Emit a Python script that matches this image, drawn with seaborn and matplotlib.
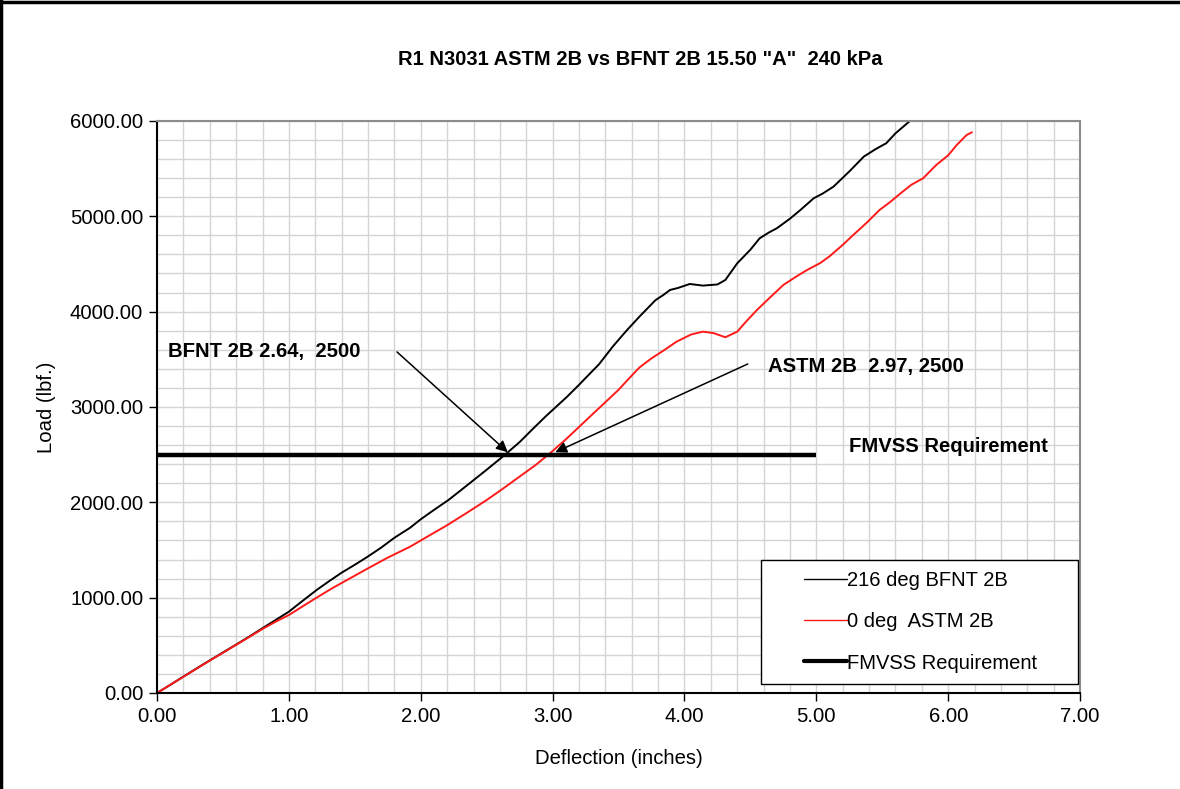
import numpy as np
import pandas as pd
import matplotlib
matplotlib.use("Agg")
import matplotlib.pyplot as plt
from matplotlib.lines import Line2D
from matplotlib.legend_handler import HandlerLine2D
import seaborn as sns

# Load-deflection readings (deflection in inches, load in lbf)
bfnt_defl = [0.00, 0.10, 0.20, 0.30, 0.40, 0.50, 0.60, 0.70, 0.80, 0.90, 1.00,
             1.10, 1.21, 1.30, 1.40, 1.50, 1.59, 1.70, 1.80, 1.92, 2.00, 2.10,
             2.21, 2.30, 2.40, 2.50, 2.64, 2.75, 2.85, 2.95, 3.11, 3.20, 3.30,
             3.35, 3.46, 3.56, 3.66, 3.78, 3.84, 3.89, 3.95, 4.04, 4.14, 4.25,
             4.31, 4.40, 4.50, 4.57, 4.64, 4.70, 4.80, 4.88, 4.98, 5.05, 5.13,
             5.25, 5.36, 5.45, 5.53, 5.60, 5.71]
bfnt_load = [0, 85, 172, 258, 342, 425, 508, 592, 680, 766, 853,
             962, 1080, 1168, 1262, 1345, 1423, 1525, 1628, 1734, 1822, 1920,
             2024, 2122, 2232, 2342, 2500, 2632, 2770, 2905, 3108, 3232, 3375,
             3445, 3640, 3800, 3950, 4120, 4175, 4227, 4248, 4290, 4273, 4285,
             4332, 4507, 4650, 4769, 4830, 4874, 4975, 5067, 5189, 5240, 5311,
             5470, 5626, 5705, 5766, 5870, 6000]

astm_defl = [0.00, 0.10, 0.20, 0.30, 0.40, 0.50, 0.60, 0.70, 0.80, 0.90, 1.00,
             1.10, 1.21, 1.33, 1.46, 1.59, 1.75, 1.92, 2.05, 2.20, 2.35, 2.50,
             2.62, 2.75, 2.87, 2.98, 3.10, 3.20, 3.31, 3.40, 3.50, 3.58, 3.66,
             3.75, 3.85, 3.94, 4.05, 4.14, 4.22, 4.31, 4.40, 4.47, 4.55, 4.65,
             4.75, 4.85, 4.93, 5.03, 5.10, 5.20, 5.28, 5.38, 5.48, 5.56, 5.64,
             5.72, 5.81, 5.91, 6.00, 6.065, 6.14, 6.18]
astm_load = [0, 86, 170, 255, 340, 422, 505, 588, 672, 748, 818,
             905, 1000, 1100, 1200, 1300, 1420, 1535, 1640, 1760, 1890, 2024,
             2140, 2270, 2390, 2514, 2660, 2790, 2934, 3050, 3180, 3300, 3416,
             3510, 3600, 3685, 3760, 3790, 3775, 3731, 3790, 3900, 4018, 4150,
             4280, 4370, 4437, 4510, 4580, 4700, 4804, 4930, 5067, 5150, 5242,
             5330, 5399, 5539, 5640, 5748, 5853, 5881]

series_names = ["216 deg BFNT 2B", "0 deg  ASTM 2B"]
series_colors = ["#000000", "#ff1a1a"]

requirement_load = 2500
requirement_span = [0.0, 5.0]
requirement_name = "FMVSS Requirement"

bfnt_point = (2.64, 2500)
astm_point = (2.97, 2500)
bfnt_label = "BFNT 2B 2.64,  2500"
astm_label = "ASTM 2B  2.97, 2500"

title = 'R1 N3031 ASTM 2B vs BFNT 2B 15.50 "A"  240 kPa'
x_ticks = [0, 1, 2, 3, 4, 5, 6, 7]
y_ticks = [0, 1000, 2000, 3000, 4000, 5000, 6000]

FS = 14.6

sns.set_theme(style="white")
plt.rcParams["font.family"] = ["Liberation Sans", "DejaVu Sans"]
plt.rcParams.update({"text.color": "black", "axes.labelcolor": "black",
                     "xtick.color": "black", "ytick.color": "black"})


class IndentedLineHandler(HandlerLine2D):
    """Legend line that starts a little to the right inside its handle box."""

    def __init__(self, indent, **kw):
        super().__init__(**kw)
        self.indent = indent

    def get_xdata(self, legend, xdescent, ydescent, width, height, fontsize):
        xd = np.array([-xdescent + self.indent * fontsize, -xdescent + width])
        return xd, xd


df = pd.concat([
    pd.DataFrame({"Deflection": bfnt_defl, "Load": bfnt_load, "Test": series_names[0]}),
    pd.DataFrame({"Deflection": astm_defl, "Load": astm_load, "Test": series_names[1]}),
], ignore_index=True)

fig = plt.figure(figsize=(11.8, 7.89), dpi=100)
ax = fig.add_axes([0.1331, 0.1217, 0.7822, 0.7250])

# light grid every 0.2 in / 200 lbf
ax.set_xticks(np.arange(0, 7.01, 0.2), minor=True)
ax.set_yticks(np.arange(0, 6001, 200), minor=True)
ax.grid(which="both", color="#d4d4d4", linewidth=1.0)
ax.set_axisbelow(True)

sns.lineplot(data=df, x="Deflection", y="Load", hue="Test",
             palette=dict(zip(series_names, series_colors)),
             linewidth=1.4, legend=False, ax=ax, sort=False)

ax.plot(requirement_span, [requirement_load] * 2, color="black", linewidth=3.2,
        solid_capstyle="butt")

ax.set_xlim(0, 7)
ax.set_ylim(0, 6000)
ax.set_xticks(x_ticks)
ax.set_yticks(y_ticks)
ax.set_xticklabels([f"{v:.2f}" for v in x_ticks])
ax.set_yticklabels([f"{v:.2f}" for v in y_ticks])
ax.tick_params(axis="both", which="major", direction="out", length=6, width=1,
               color="black", labelcolor="black", labelsize=FS, pad=4,
               bottom=True, left=True)
ax.tick_params(axis="both", which="minor", length=0)

for side in ["top", "right"]:
    ax.spines[side].set_color("#8c8c8c")
    ax.spines[side].set_linewidth(1.5)
for side in ["left", "bottom"]:
    ax.spines[side].set_color("black")
    ax.spines[side].set_linewidth(1.5)

ax.set_xlabel("Deflection (inches)", fontsize=FS, labelpad=17, color="black")
ax.set_ylabel("Load (lbf.)", fontsize=FS, labelpad=10, color="black")

fig.text(0.543, 0.924, title, ha="center", va="center", fontsize=14.5,
         fontweight="bold", color="black")

# callouts at the requirement crossings
ax.annotate("", xy=(bfnt_point[0] + 0.02, bfnt_point[1] + 25), xytext=(1.82, 3577),
            arrowprops=dict(arrowstyle="-|>", color="black", lw=1.1,
                            mutation_scale=17, shrinkA=0, shrinkB=0))
ax.annotate("", xy=(astm_point[0] + 0.05, astm_point[1] + 25), xytext=(4.48, 3451),
            arrowprops=dict(arrowstyle="-|>", color="black", lw=1.1,
                            mutation_scale=17, shrinkA=0, shrinkB=0))
ax.text(0.083, 3580, bfnt_label, ha="left", va="center", fontsize=FS,
        fontweight="bold", color="black")
ax.text(4.63, 3420, astm_label, ha="left", va="center", fontsize=FS,
        fontweight="bold", color="black")
ax.text(5.25, 2590, requirement_name, ha="left", va="center", fontsize=FS,
        fontweight="bold", color="black")

handles = [
    Line2D([0], [0], color=series_colors[0], linewidth=1.0),
    Line2D([0], [0], color=series_colors[1], linewidth=1.0),
    Line2D([0], [0], color="black", linewidth=3.0),
]
labels = series_names + [requirement_name]
leg = ax.legend(handles, labels, loc="lower left",
                bbox_to_anchor=(0.6544, 0.0157, 0.3434, 0.2), mode="expand",
                fontsize=14.5, frameon=True, fancybox=False, framealpha=1,
                edgecolor="black", handlelength=3.71, handletextpad=0.0,
                labelspacing=1.1, borderpad=0.57, borderaxespad=0,
                labelcolor="black",
                handler_map={Line2D: IndentedLineHandler(1.57)})
leg.get_frame().set_linewidth(1.0)

# outer frame on top and left of the figure
fig.add_artist(Line2D([0.001, 0.001], [0, 1], transform=fig.transFigure,
                      color="black", linewidth=2.5))
fig.add_artist(Line2D([0, 1], [0.998, 0.998], transform=fig.transFigure,
                      color="black", linewidth=2.5))

fig.savefig("out.png", dpi=100, facecolor="white")
